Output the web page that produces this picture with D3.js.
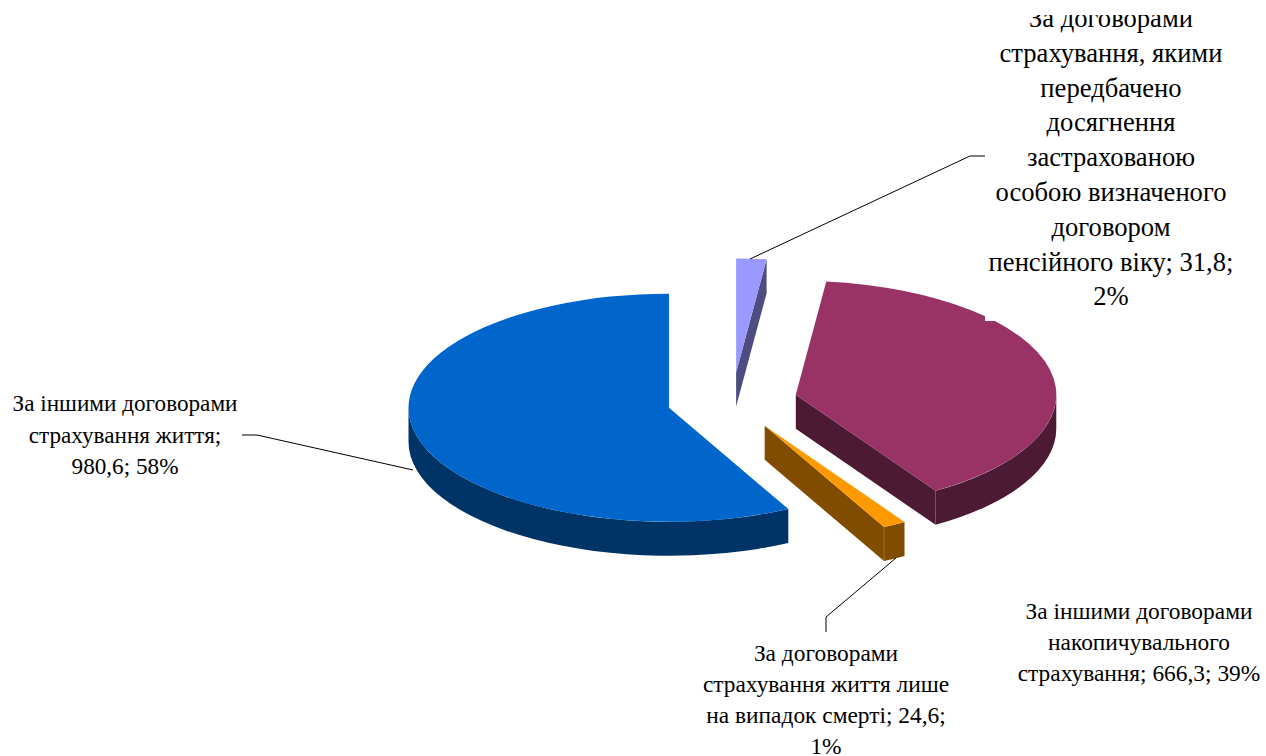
<!DOCTYPE html>
<html><head><meta charset="utf-8">
<script src="https://cdn.jsdelivr.net/npm/d3@7"></script>
<style>html,body{margin:0;padding:0;background:#fff;overflow:hidden}svg{display:block}text{font-family:"Liberation Serif",serif;fill:#000}</style>
</head><body><svg id="c" width="1266" height="756"></svg>
<script>
const categories = [
  "За договорами страхування, якими передбачено досягнення застрахованою особою визначеного договором пенсійного віку",
  "За іншими договорами накопичувального страхування",
  "За договорами страхування життя лише на випадок смерті",
  "За іншими договорами страхування життя"
];
const values = [31.8, 666.3, 24.6, 980.6];
const percents = [2, 39, 1, 58];
const topColors = ["#9999FF", "#993366", "#FF9900", "#0066CC"];
const sideColors = ["#4D4D80", "#4D1A33", "#804D00", "#003366"];
const labelLines = [
  ["За договорами","страхування, якими","передбачено","досягнення","застрахованою","особою визначеного","договором","пенсійного віку; 31,8;","2%"],
  ["За іншими договорами","накопичувального","страхування; 666,3; 39%"],
  ["За договорами","страхування життя лише","на випадок смерті; 24,6;","1%"],
  ["За іншими договорами","страхування життя;","980,6; 58%"]
];
const labelPos = [
  {x:1111,y:27,dy:34.8,size:26.6},
  {x:1139,y:619,dy:31,size:23.4},
  {x:826,y:661,dy:31,size:23.4},
  {x:125,y:411,dy:31.5,size:23.2}
];
const leaders = [
  [[985,156],[970,156],[750,259]],
  null,
  [[826,632],[826,617],[896,558]],
  [[242,435],[257,435],[413,470]]
];
const cx0=732.3, cy0=401, rx=260.5, ry=114, depth=34, explode=0.25;

const svg=d3.select("#c");
const pie=d3.pie().sort(null).value(d=>d);
const arcs=pie(values);
const arcGen=d3.arc().innerRadius(0).outerRadius(rx);
const px=(c,a)=>c.x+rx*Math.sin(a), py=(c,a)=>c.y-ry*Math.cos(a);

function drawSlice(d,i){
  const mid=(d.startAngle+d.endAngle)/2;
  const c={x:cx0+explode*rx*Math.sin(mid), y:cy0-explode*ry*Math.cos(mid)};
  const g=svg.append("g");
  if(Math.sin(d.endAngle)>1e-6){
    const a=d.endAngle;
    const p=d3.path();
    p.moveTo(c.x,c.y);p.lineTo(px(c,a),py(c,a));p.lineTo(px(c,a),py(c,a)+depth);p.lineTo(c.x,c.y+depth);p.closePath();
    g.append("path").attr("d",p.toString()).attr("fill",sideColors[i]);
  }
  const a0=Math.max(d.startAngle,Math.PI/2), a1=Math.min(d.endAngle,3*Math.PI/2);
  if(a1>a0){
    const s=`M${px(c,a0)},${py(c,a0)}A${rx},${ry} 0 0 1 ${px(c,a1)},${py(c,a1)}`+
      `L${px(c,a1)},${py(c,a1)+depth}A${rx},${ry} 0 0 0 ${px(c,a0)},${py(c,a0)+depth}Z`;
    g.append("path").attr("d",s).attr("fill",sideColors[i]);
    if(i===2) g.append("line").attr("x1",px(c,a1)).attr("x2",px(c,a1)).attr("y1",py(c,a1)).attr("y2",py(c,a1)+depth).attr("stroke","#A87A40").attr("stroke-width",0.8);
  }
  g.append("path").attr("d",arcGen(d)).attr("fill",topColors[i])
    .attr("transform",`translate(${c.x},${c.y}) scale(1,${ry/rx})`);
}
[0,3,1,2].forEach(i=>drawSlice(arcs[i],i));

svg.append("rect").attr("x",985).attr("y",0).attr("width",250).attr("height",321).attr("fill","#fff");

const defs=svg.append("defs");
defs.append("clipPath").attr("id","topClip").append("rect").attr("x",960).attr("y",15).attr("width",300).attr("height",320);

const line=d3.line();
leaders.forEach(l=>{ if(l) svg.append("path").attr("d",line(l)).attr("fill","none").attr("stroke","#000").attr("stroke-width",1); });

labelLines.forEach((lines,i)=>{
  const p=labelPos[i];
  const t=svg.append("g").attr("clip-path",i===0?"url(#topClip)":null);
  t.selectAll("text").data(lines).join("text")
    .attr("x",p.x).attr("y",(d,k)=>p.y+k*p.dy).attr("text-anchor","middle")
    .attr("font-size",p.size).text(d=>d);
});
</script></body></html>
